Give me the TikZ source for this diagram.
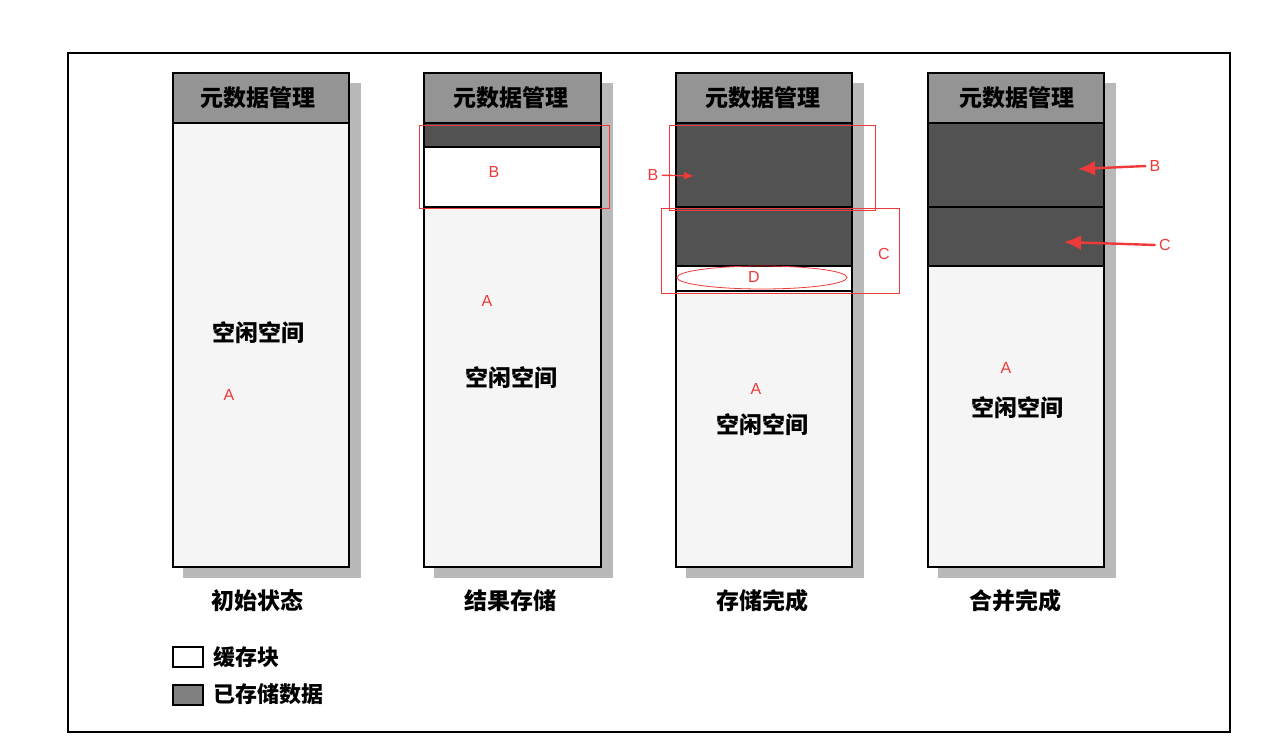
\documentclass[tikz,border=0pt]{standalone}
\usepackage{fontspec}
\setmainfont{Liberation Sans}
\newfontfamily\cjk{Noto Sans CJK SC}
\usetikzlibrary{arrows.meta}
\definecolor{mark}{RGB}{238,58,58}

\tikzset{
  col/.style={draw=black, line width=1.6pt},
  head/.style={col, fill=black!42},
  used/.style={col, fill=black!68},
  free/.style={col, fill=gray!8},
  cache/.style={col, fill=white},
  shade/.style={fill=gray!55, draw=none},
  cn/.style={font=\cjk\bfseries\fontsize{23}{23}\selectfont},
  key/.style={font=\cjk\bfseries\fontsize{22}{22}\selectfont},
  tag/.style={text=mark, font=\fontsize{16}{16}\selectfont},
  hl/.style={draw=mark, line width=0.8pt},
  thin pt/.style={draw=mark, line width=1.4pt, -{Latex[length=10pt,width=8pt]}},
  fat pt/.style={draw=mark, line width=2.4pt, -{Latex[length=17pt,width=15pt]}}
}

\begin{document}
\begin{tikzpicture}[x=1pt,y=-1pt]
   \useasboundingbox (0,0) rectangle (1283,754);
   \draw[line width=1.3pt] (68,53) rectangle (1230,732);

   % initial state
   \fill[shade] (183,83) rectangle (361,578);
   \draw[free] (173,123) rectangle (349,567);
   \draw[head] (173,73) rectangle (349,123);
   \node[cn] (h1) at (258,98) {元数据管理};
   \node[cn] (f1) at (258,333) {空闲空间};
   \node[tag] (a1) at (229,395) {A};
   \node[cn] (s1) at (257,601) {初始状态};

   % result stored
   \fill[shade] (434,83) rectangle (613,578);
   \draw[free] (424,123) rectangle (601,567);
   \draw[head] (424,73) rectangle (601,123);
   \draw[used] (424,123) rectangle (601,147);
   \draw[cache] (424,147) rectangle (601,207);
   \node[cn] (h2) at (511,98) {元数据管理};
   \node[tag] (b2) at (494,172) {B};
   \node[tag] (a2) at (487,301) {A};
   \node[cn] (f2) at (511,378) {空闲空间};
   \node[cn] (s2) at (510,601) {结果存储};
   \draw[hl] (419,125) rectangle (609,208);

   % storing done
   \fill[shade] (686,83) rectangle (864,578);
   \draw[free] (676,123) rectangle (852,567);
   \draw[head] (676,73) rectangle (852,123);
   \draw[used] (676,123) rectangle (852,207);
   \draw[used] (676,207) rectangle (852,266);
   \draw[cache] (676,266) rectangle (852,291);
   \node[cn] (h3) at (763,98) {元数据管理};
   \node[tag] (b3) at (653,175) {B};
   \coordinate (b3end) at (694,176);
   \node[tag] (c3) at (884,254) {C};
   \node[tag] (d3) at (754,277) {D};
   \node[tag] (a3) at (756,389) {A};
   \node[cn] (f3) at (762,425) {空闲空间};
   \node[cn] (s3) at (762,601) {存储完成};
   \draw[hl] (669,125) rectangle (875,210);
   \draw[hl] (661,208) rectangle (899,293);
   \draw[hl] (762,277.5) ellipse [x radius=85, y radius=11.5];
   \draw[thin pt] (b3) -- (b3end);

   % merge done
   \fill[shade] (938,83) rectangle (1116,578);
   \draw[free] (928,123) rectangle (1104,567);
   \draw[head] (928,73) rectangle (1104,123);
   \draw[used] (928,123) rectangle (1104,207);
   \draw[used] (928,207) rectangle (1104,266);
   \node[cn] (h4) at (1017,98) {元数据管理};
   \node[tag] (b4) at (1155,166) {B};
   \coordinate (b4end) at (1078,169);
   \node[tag] (c4) at (1165,245) {C};
   \coordinate (c4end) at (1064,242);
   \node[tag] (a4) at (1006,368) {A};
   \node[cn] (f4) at (1017,408) {空闲空间};
   \node[cn] (s4) at (1015,601) {合并完成};
   \draw[fat pt] (b4.west) -- (b4end);
   \draw[fat pt] (c4.west) -- (c4end);

   % legend
   \draw[col, line width=1.4pt, fill=white] (173,647) rectangle (203,667);
   \node[key, anchor=west] (k1) at (210,657) {缓存块};
   \draw[col, line width=1.4pt, fill=black!50] (173,685) rectangle (203,705);
   \node[key, anchor=west] (k2) at (210,694) {已存储数据};
\end{tikzpicture}
\end{document}
